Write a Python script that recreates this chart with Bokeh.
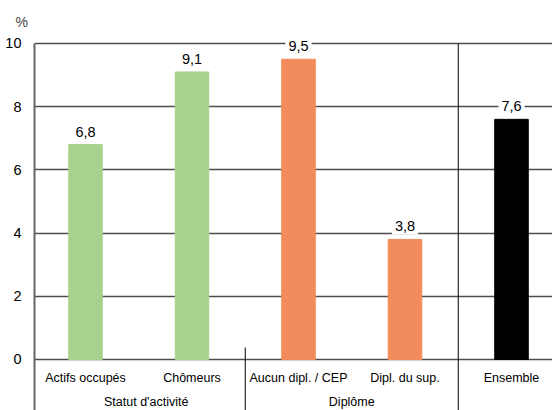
from bokeh.plotting import figure
from bokeh.models import Range1d, FixedTicker, ColumnDataSource
from bokeh.embed import file_html
from bokeh.resources import INLINE
from bokeh.core.properties import value

categories = ["Actifs occupés", "Chômeurs", "Aucun dipl. / CEP", "Dipl. du sup.", "Ensemble"]
values = [6.8, 9.1, 9.5, 3.8, 7.6]
value_labels = ["6,8", "9,1", "9,5", "3,8", "7,6"]
colors = ["#a9d18e", "#a9d18e", "#f28c5c", "#f28c5c", "#000000"]
groups = ["Statut d'activité", "Diplôme"]
group_centers = [0.57, 2.5]
separators = [1.5, 3.5]
separator_tops = [0.38, 10]
y_ticks = [0, 2, 4, 6, 8, 10]

FONT = "'Liberation Sans', sans-serif"
# frame: left 34, top 30, bottom 410, right 552 ; 0 at 359, 10 at 43
Y0, Y1 = -1.614, 10.411
X0, X1 = -0.479, 4.385

xs = list(range(len(categories)))
src = ColumnDataSource(dict(x=xs, top=values, lab=value_labels, color=colors, cat=categories))

p = figure(width=552, height=410, output_backend="svg", toolbar_location=None,
           x_range=Range1d(X0, X1), y_range=Range1d(Y0, Y1), x_axis_type=None,
           min_border_left=34, min_border_right=0, min_border_bottom=0, min_border_top=30,
           title="%")
p.outline_line_color = None
p.title.text_font = FONT
p.title.text_font_size = "14px"
p.title.text_font_style = "normal"
p.title.align = "left"
p.title.offset = -19
p.title.standoff = 1

p.yaxis.ticker = FixedTicker(ticks=y_ticks)
p.yaxis.bounds = (Y0, 10)
p.yaxis.major_label_text_font = FONT
p.yaxis.major_label_text_font_size = "14.5px"
p.yaxis.major_label_text_color = "#000000"
p.yaxis.major_label_standoff = 7
p.yaxis.major_tick_line_color = None
p.yaxis.minor_tick_line_color = None
p.yaxis.axis_line_color = "#666666"
p.yaxis.axis_line_width = 2

p.ygrid.ticker = FixedTicker(ticks=y_ticks)
p.ygrid.grid_line_color = "#4d4d4d"
p.ygrid.grid_line_width = 1.5

p.vbar(x="x", top="top", bottom=0, width=0.315, color="color", source=src)

p.text(x="x", y="top", text="lab", source=src, text_font=value(FONT), text_font_size="14.5px",
       text_align="center", text_baseline="middle", y_offset=-13,
       background_fill_color="white", padding=3)

p.text(x="x", y=-0.57, text="cat", source=src, text_font=value(FONT), text_font_size="12.5px",
       text_align="center", text_baseline="middle")

p.text(x=group_centers, y=[-1.36] * len(groups), text=groups, text_font=value(FONT),
       text_font_size="12.5px", text_align="center", text_baseline="middle")

p.segment(x0=separators, y0=separator_tops, x1=separators, y1=[Y0] * len(separators),
          line_color="black", line_width=1)

open("out.html", "w").write(file_html(p, INLINE))
